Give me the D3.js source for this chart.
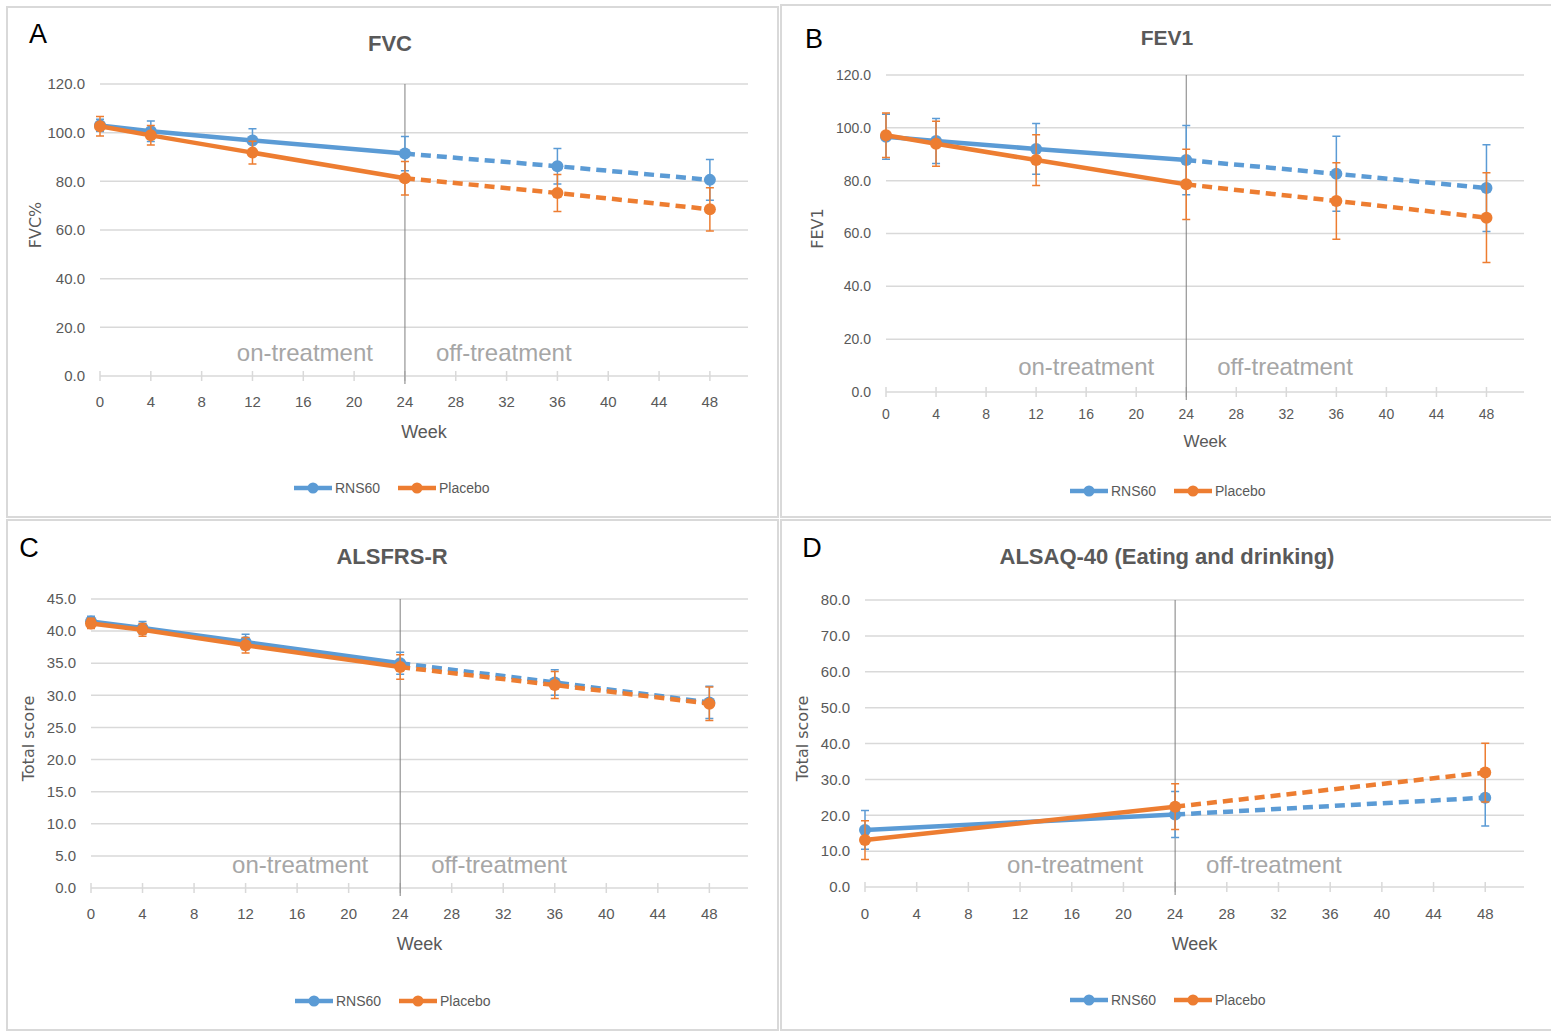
<!DOCTYPE html>
<html>
  <head>
    <meta charset='utf-8'>
    <script src='https://d3js.org/d3.v7.min.js'></script>
    <style>
      body { margin: 0; background: #fff; }
      text { font-family: 'Liberation Sans Narrow', 'Liberation Sans', sans-serif; }
    </style>
  </head>
  <body>
    <div id='chart'></div>
    <script>
        // weeks of visits
        const weeks = [0, 4, 12, 24, 36, 48];
        const weeksD = [0, 24, 48];
        const seriesNames = ['RNS60', 'Placebo'];
        const xTicks = d3.range(0, 49, 4);

        // A: FVC% (mean, error)
        const fvcRns = [103.0, 100.6, 96.8, 91.4, 86.2, 80.6];
        const fvcRnsErr = [2.5, 4.2, 4.8, 7.0, 7.3, 8.4];
        const fvcPla = [102.6, 98.9, 91.8, 81.3, 75.2, 68.5];
        const fvcPlaErr = [4.0, 4.0, 4.7, 6.9, 7.6, 8.9];

        // B: FEV1
        const fev1Rns = [96.6, 95.0, 92.0, 87.8, 82.6, 77.2];
        const fev1RnsErr = [8.5, 8.5, 9.6, 13.1, 14.2, 16.4];
        const fev1Pla = [97.2, 94.0, 87.8, 78.6, 72.3, 66.0];
        const fev1PlaErr = [8.4, 8.5, 9.6, 13.3, 14.5, 17.0];

        // C: ALSFRS-R total score
        const alsRns = [41.5, 40.5, 38.3, 35.0, 32.0, 28.9];
        const alsRnsErr = [0.8, 1.0, 1.2, 1.7, 2.0, 2.5];
        const alsPla = [41.2, 40.2, 37.8, 34.4, 31.6, 28.7];
        const alsPlaErr = [0.8, 1.0, 1.2, 1.9, 2.1, 2.6];

        // D: ALSAQ-40 eating and drinking
        const alsaqRns = [15.9, 20.2, 24.9];
        const alsaqRnsErr = [5.4, 6.4, 7.9];
        const alsaqPla = [13.1, 22.4, 31.9];
        const alsaqPlaErr = [5.4, 6.4, 8.2];

        const colors = ['#5b9bd5', '#ed7d31'];

        const panels = [
          { letter: 'A', title: 'FVC', ylab: 'FVC%', weeks: weeks, yMax: 120, yStep: 20,
            box: [7, 7, 771, 510], plot: [100, 84, 748, 376], fs: 15,
            letterPos: [38, 43], titleX: 390, titleY: 51, ylabX: 41, xlabY: 407, weekY: 438, legY: 488, legX: 394, txtY: 361,
            series: [[fvcRns, fvcRnsErr], [fvcPla, fvcPlaErr]] },
          { letter: 'B', title: 'FEV1', ylab: 'FEV1', weeks: weeks, yMax: 120, yStep: 20,
            box: [781, 5, 775, 512], plot: [886, 75, 1524, 392], fs: 14,
            letterPos: [814, 48], titleX: 1167, titleY: 45, ylabX: 823, xlabY: 419, weekY: 447, legY: 491, legX: 1170, txtY: 375,
            series: [[fev1Rns, fev1RnsErr], [fev1Pla, fev1PlaErr]] },
          { letter: 'C', title: 'ALSFRS-R', ylab: 'Total score', weeks: weeks, yMax: 45, yStep: 5,
            box: [7, 520, 771, 510], plot: [91, 599, 748, 888], fs: 15,
            letterPos: [29, 557], titleX: 392, titleY: 564, ylabX: 34, xlabY: 919, weekY: 950, legY: 1001, legX: 395, txtY: 873,
            series: [[alsRns, alsRnsErr], [alsPla, alsPlaErr]] },
          { letter: 'D', title: 'ALSAQ-40 (Eating and drinking)', ylab: 'Total score', weeks: weeksD, yMax: 80, yStep: 10,
            box: [781, 520, 775, 510], plot: [865, 600, 1524, 887], fs: 15,
            letterPos: [812, 557], titleX: 1167, titleY: 564, ylabX: 808, xlabY: 919, weekY: 950, legY: 1000, legX: 1170, txtY: 873,
            series: [[alsaqRns, alsaqRnsErr], [alsaqPla, alsaqPlaErr]] }
        ];

        const svg = d3.select('#chart').append('svg')
            .attr('width', 1551)
            .attr('height', 1031);

        panels.forEach(draw_panel);

        function draw_panel(p) {
          const g = svg.append('g');
          const [l, t, r, b] = p.plot;

          g.append('rect')
            .attr('x', p.box[0]).attr('y', p.box[1])
            .attr('width', p.box[2]).attr('height', p.box[3])
            .attr('fill', '#fff').attr('stroke', '#d9d9d9').attr('stroke-width', 2);

          const x = d3.scaleLinear().domain([0, 51]).range([l, r]);
          const y = d3.scaleLinear().domain([0, p.yMax]).range([b, t]);

          // gridlines
          const yTicks = d3.range(0, p.yMax + 0.01, p.yStep);
          g.append('g').selectAll('line').data(yTicks).join('line')
            .attr('x1', l).attr('x2', r)
            .attr('y1', d => y(d)).attr('y2', d => y(d))
            .attr('stroke', '#d9d9d9').attr('stroke-width', 1.5);

          // y labels
          g.append('g').selectAll('text').data(yTicks).join('text')
            .attr('x', l - 15).attr('y', d => y(d))
            .attr('dy', '0.35em').attr('text-anchor', 'end')
            .attr('font-size', p.fs).attr('fill', '#595959')
            .text(d => d.toFixed(1));

          // x axis ticks
          g.append('g').selectAll('line').data(xTicks).join('line')
            .attr('x1', d => x(d)).attr('x2', d => x(d))
            .attr('y1', b - 5).attr('y2', b + 5)
            .attr('stroke', '#d9d9d9').attr('stroke-width', 1.5);
          g.append('g').selectAll('text').data(xTicks).join('text')
            .attr('x', d => x(d)).attr('y', p.xlabY)
            .attr('text-anchor', 'middle')
            .attr('font-size', p.fs).attr('fill', '#595959')
            .text(d => d);

          // week 24 marker line
          g.append('line')
            .attr('x1', x(24)).attr('x2', x(24))
            .attr('y1', t).attr('y2', b + 8)
            .attr('stroke', '#7f7f7f').attr('stroke-width', 1);

          g.append('text')
            .attr('x', x(24) - 32).attr('y', p.txtY)
            .attr('text-anchor', 'end').attr('font-size', 24).attr('fill', '#a6a6a6')
            .text('on-treatment');
          g.append('text')
            .attr('x', x(24) + 31).attr('y', p.txtY)
            .attr('font-size', 24).attr('fill', '#a6a6a6')
            .text('off-treatment');

          // titles
          g.append('text')
            .attr('x', p.letterPos[0]).attr('y', p.letterPos[1])
            .attr('text-anchor', 'middle')
            .style('font-family', 'Liberation Sans, sans-serif')
            .attr('font-size', 27).attr('fill', '#000')
            .text(p.letter);
          g.append('text')
            .attr('x', p.titleX).attr('y', p.titleY)
            .attr('text-anchor', 'middle').attr('font-weight', 'bold')
            .attr('font-size', p.fs + 7).attr('fill', '#595959')
            .text(p.title);
          g.append('text')
            .attr('x', (l + r) / 2).attr('y', p.weekY)
            .attr('text-anchor', 'middle')
            .attr('font-size', p.fs + 3).attr('fill', '#595959')
            .text('Week');
          g.append('text')
            .attr('transform', `translate(${p.ylabX},${(t + b) / 2 - 5}) rotate(-90)`)
            .attr('text-anchor', 'middle')
            .style('font-family', 'DejaVu Sans, sans-serif')
            .attr('font-size', 16).attr('fill', '#595959')
            .text(p.ylab);

          // series
          p.series.forEach((s, i) => {
            const pts = p.weeks.map((w, k) => ({ w: w, v: s[0][k], e: s[1][k] }));
            const sg = g.append('g');
            const line = d3.line().x(d => x(d.w)).y(d => y(d.v));

            sg.selectAll('.err').data(pts).join('path')
              .attr('d', d => {
                const cx = x(d.w), y0 = y(d.v - d.e), y1 = y(d.v + d.e);
                return `M${cx - 4},${y1}H${cx + 4}M${cx},${y1}V${y0}M${cx - 4},${y0}H${cx + 4}`;
              })
              .attr('fill', 'none').attr('stroke', colors[i]).attr('stroke-width', 1.5);

            sg.append('path').datum(pts.filter(d => d.w <= 24))
              .attr('d', line).attr('fill', 'none')
              .attr('stroke', colors[i]).attr('stroke-width', 4.5);
            sg.append('path').datum(pts.filter(d => d.w >= 24))
              .attr('d', line).attr('fill', 'none')
              .attr('stroke', colors[i]).attr('stroke-width', 4.5)
              .attr('stroke-dasharray', '10,6');

            sg.selectAll('circle').data(pts).join('circle')
              .attr('cx', d => x(d.w)).attr('cy', d => y(d.v)).attr('r', 6)
              .attr('fill', colors[i]);
          });

          // legend
          const leg = g.append('g').attr('transform', `translate(${p.legX - 100},${p.legY})`);
          const offs = [0, 104];
          seriesNames.forEach((n, i) => {
            const e = leg.append('g').attr('transform', `translate(${offs[i]},0)`);
            e.append('line').attr('x1', 0).attr('x2', 38)
              .attr('stroke', colors[i]).attr('stroke-width', 4.5);
            e.append('circle').attr('cx', 19).attr('r', 5.5).attr('fill', colors[i]);
            e.append('text').attr('x', 41).attr('dy', '0.35em')
              .attr('font-size', 14).attr('fill', '#595959').text(n);
          });
        }
    </script>
  </body>
</html>
